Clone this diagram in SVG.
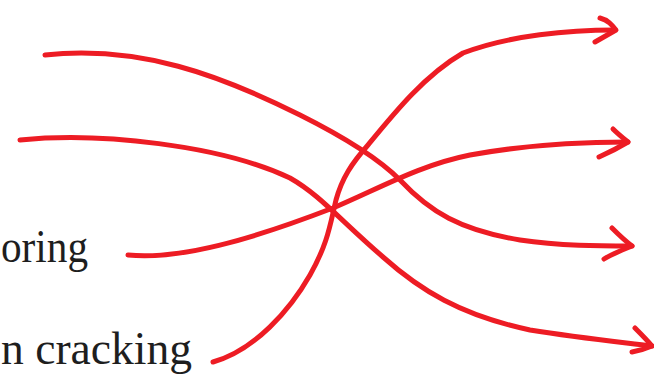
<svg xmlns="http://www.w3.org/2000/svg" width="654" height="375" viewBox="0 0 654 375">
<style>
.c{fill:none;stroke:#ed1c24;stroke-width:5;stroke-linecap:round;stroke-linejoin:round}
.t{font-family:"Liberation Serif","Times New Roman",serif;font-size:47px;fill:#1e1e1e}
</style>
<rect width="654" height="375" fill="#ffffff"/>
<g id="label-boring"><text class="t" x="1" y="262" textLength="87" lengthAdjust="spacingAndGlyphs">oring</text></g>
<g id="label-cracking"><text class="t" x="1" y="364" textLength="191" lengthAdjust="spacingAndGlyphs">n cracking</text></g>
<g id="connectors">
<path class="c" d="M45,55 C140,45 220,75 300,115 C350,140 380,160 400,180 C430,212 460,230 520,240 C560,246 600,246 632,246"/>
<path class="c" d="M612,228 C618,234 624,240 632,246 C622,250 612,254 604,259"/>
<path class="c" d="M20,140 C100,132 220,145 290,178 C320,195 340,220 383,257 C420,290 460,315 530,330 C580,338 620,342 652,346"/>
<path class="c" d="M635,328 C641,334 647,340 652,346 C645,349 638,351 632,352"/>
<path class="c" d="M128,255 C180,260 250,240 333,208 C380,188 420,165 470,155 C530,144 590,142 628,142"/>
<path class="c" d="M613,129 C618,134 623,138 628,142 C618,148 608,153 599,157"/>
<path class="c" d="M213,362 C255,350 290,310 310,275 C328,243 330,225 336,200 C342,178 352,163 368,145 C395,112 425,75 463,53 C510,35 570,30 615,30"/>
<path class="c" d="M600,18 C608,20 612,25 616,30 C609,34 602,38 595,42"/>
</g>
</svg>
